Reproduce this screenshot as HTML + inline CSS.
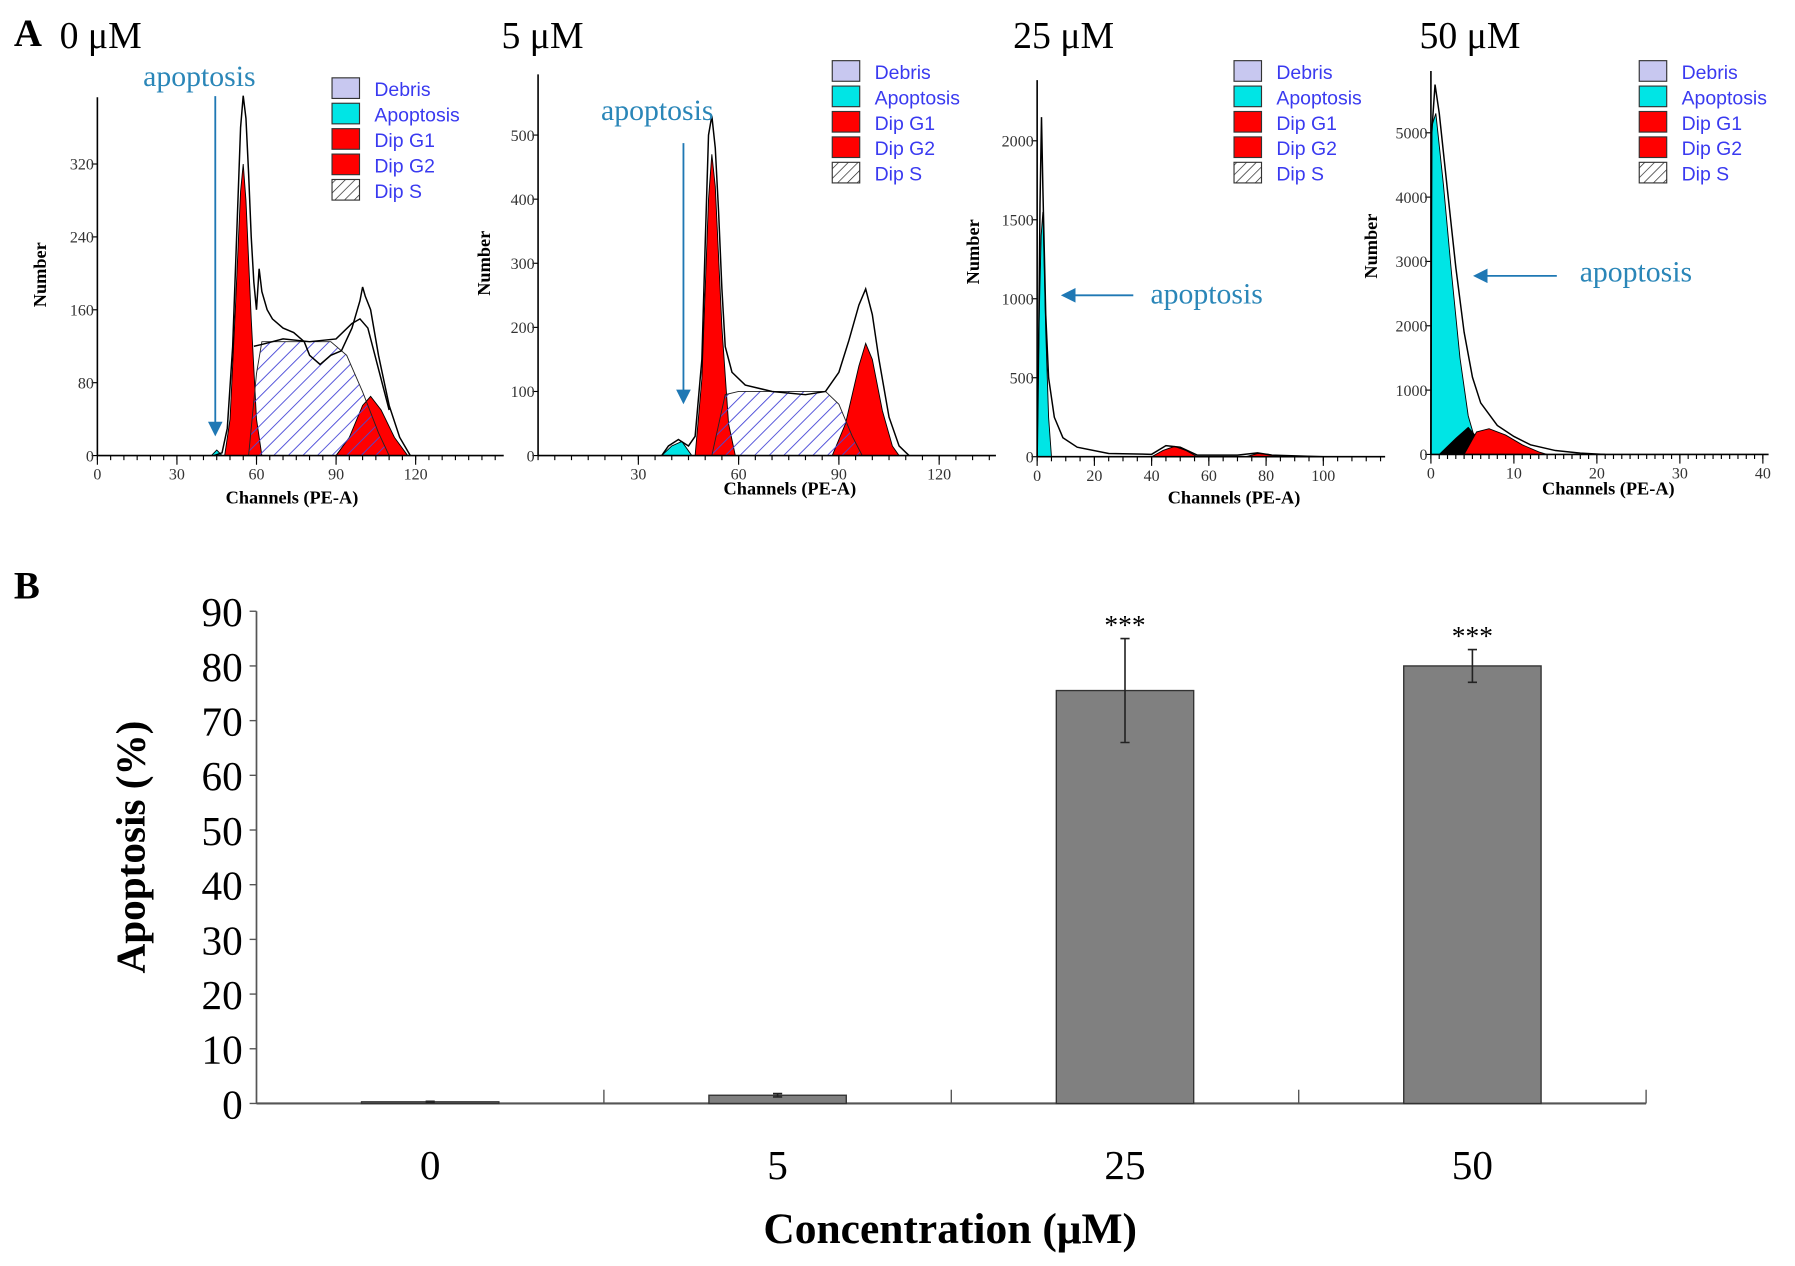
<!DOCTYPE html>
<html><head><meta charset="utf-8"><style>
html,body{margin:0;padding:0;background:#fff}
svg{display:block}
</style></head><body>
<svg id="fig" width="1795" height="1266" viewBox="0 0 1568 1106" xmlns="http://www.w3.org/2000/svg">
<defs>
<pattern id="hatch" patternUnits="userSpaceOnUse" width="9" height="9" patternTransform="rotate(45)">
<line x1="0" y1="0" x2="0" y2="9" stroke="#4a4ad8" stroke-width="1.6"/>
</pattern>
<pattern id="hatchLeg" patternUnits="userSpaceOnUse" width="6" height="6" patternTransform="rotate(45)">
<line x1="0" y1="0" x2="0" y2="6" stroke="#222" stroke-width="1.2"/>
</pattern>
<marker id="arr" markerWidth="8" markerHeight="8" refX="6" refY="4" orient="auto" markerUnits="strokeWidth"><path d="M0,0 L8,4 L0,8 z" fill="#1f78b4"/></marker>
</defs>
<g id="panelA"></g>
<g id="panelB"></g>
</svg>
<script>
// ---------- Panel B data ----------
const barCategories = ["0","5","25","50"];
const barValues = [0.3, 1.5, 75.5, 80];
const barErrors = [0.1, 0.3, 9.5, 3];
const barSig = ["","","***","***"];
const yTicks = [0,10,20,30,40,50,60,70,80,90];

// ---------- Panel A data (channel, count) ----------
const p1Envelope = [[44,0],[47,3],[49,30],[51,120],[53,280],[54,360],[55,395],[56,370],[57,310],[58,240],[59,190],[60,160],[61,205],[62,180],[64,160],[66,150],[70,140],[74,135],[78,125],[80,110],[84,100],[88,110],[92,115],[96,140],[99,170],[100,185],[101,175],[103,160],[106,110],[110,55],[114,20],[118,0]];
const p1Envelope2 = [[59,120],[62,122],[70,128],[80,125],[90,128],[96,145],[99,150],[102,140],[106,95],[110,50]];
const p1Apop = [[43,0],[45,6],[47,0]];
const p1G1 = [[48,0],[50,40],[52,160],[54,290],[55,320],[56,280],[58,150],[60,40],[62,0]];
const p1S = [[57,0],[60,90],[62,125],[88,125],[94,110],[100,70],[106,25],[110,0]];
const p1G2 = [[90,0],[95,20],[100,55],[103,65],[107,50],[112,20],[117,0]];

const p2Envelope = [[37,0],[39,15],[42,25],[45,15],[47,30],[49,150],[50,330],[51,500],[52,530],[53,480],[54,380],[55,260],[56,170],[58,130],[62,110],[70,100],[80,95],[86,100],[90,130],[93,180],[96,235],[98,260],[100,220],[102,150],[105,60],[108,15],[111,0]];
const p2Apop = [[37,0],[40,15],[43,22],[46,0]];
const p2G1 = [[47,0],[49,120],[51,400],[52,470],[53,420],[55,200],[57,50],[59,0]];
const p2S = [[52,0],[56,95],[60,100],[86,100],[90,80],[94,30],[97,0]];
const p2G2 = [[88,0],[92,50],[96,140],[98,175],[100,150],[103,70],[106,15],[108,0]];

const p3Envelope = [[0,0],[0.5,700],[1,1600],[1.5,2150],[2,1700],[3,900],[4,500],[6,250],[9,120],[14,60],[25,20],[40,15],[45,70],[50,60],[56,10],[70,10],[77,25],[82,10],[100,0]];
const p3Apop = [[0,0],[0.6,800],[1.4,1400],[2,1550],[3,800],[4,250],[5,0]];
const p3G1 = [[40,0],[44,40],[48,65],[52,40],[56,0]];
const p3G2 = [[73,0],[77,20],[81,15],[85,0]];

const p4Envelope = [[0,0],[0.1,5000],[0.5,5750],[1,5300],[2,4100],[3,2900],[4,1900],[5,1200],[6,800],[8,450],[10,280],[12,150],[15,60],[18,20],[21,0]];
const p4Apop = [[0,0],[0.1,5100],[0.6,5300],[1.5,4200],[2.5,2800],[3.5,1500],[4.5,600],[5.5,150],[6,0]];
const p4Black = [[1,0],[3,250],[4.5,420],[6,200],[8,0]];
const p4Red = [[4,0],[5.5,350],[7,400],[9,300],[11,150],[13,40],[14,0]];

const SVGNS = "http://www.w3.org/2000/svg";
function mk(tag, attrs, parent, text){
  const e = document.createElementNS(SVGNS, tag);
  for (const k in attrs) e.setAttribute(k, attrs[k]);
  if (text !== undefined) e.textContent = text;
  parent.appendChild(e);
  return e;
}
const A = document.getElementById("panelA");
const B = document.getElementById("panelB");

// ---------- Panel A ----------
const panels = [
  {title:"0 μM", tx:52, x0:85, y0:398, xmax:440, ytop:85, pxX:2.317, pxY:0.796, xTicks:[0,30,60,90,120], xStep:5, yTicks:[0,80,160,240,320], numX:40, numY:240, chX:255, chY:440,
   legX:290, legY:68, series:[["apop",p1Apop],["g1",p1G1],["g2",p1G2],["s",p1S],["env",p1Envelope],["env",p1Envelope2]],
   ann:{tx:125,ty:75,x1:188,y1:84,x2:188,y2:378}},
  {title:"5 μM", tx:438, x0:470, y0:398, xmax:870, ytop:65, pxX:2.92, pxY:0.56, xTicks:[30,60,90,120], xStep:5, yTicks:[0,100,200,300,400,500], numX:428, numY:230, chX:690, chY:432,
   legX:727, legY:53, series:[["apop",p2Apop],["g1",p2G1],["g2",p2G2],["s",p2S],["env",p2Envelope]],
   ann:{tx:525,ty:105,x1:597,y1:125,x2:597,y2:350}},
  {title:"25 μM", tx:885, x0:906, y0:399, xmax:1210, ytop:70, pxX:2.5, pxY:0.138, xTicks:[0,20,40,60,80,100], xStep:5, yTicks:[0,500,1000,1500,2000], numX:855, numY:220, chX:1078, chY:440,
   legX:1078, legY:53, series:[["apop",p3Apop],["g1",p3G1],["g2",p3G2],["env",p3Envelope]],
   ann:{tx:1005,ty:265,x1:990,y1:258,x2:930,y2:258}},
  {title:"50 μM", tx:1240, x0:1250, y0:397, xmax:1545, ytop:62, pxX:7.25, pxY:0.0562, xTicks:[0,10,20,30,40], xStep:1, yTicks:[0,1000,2000,3000,4000,5000], numX:1203, numY:215, chX:1405, chY:432,
   legX:1432, legY:53, series:[["apop",p4Apop],["black",p4Black],["g1",p4Red],["env",p4Envelope]],
   ann:{tx:1380,ty:246,x1:1360,y1:241,x2:1290,y2:241}}
];
mk("text",{x:12,y:40,"font-family":"Liberation Serif, serif","font-weight":"bold","font-size":34,},A,"A");
const fills = {apop:"#00e5e5", g1:"#ff0000", g2:"#ff0000", s:"url(#hatch)", black:"#000", env:"none"};
panels.forEach((p, i) => {
  const g = mk("g",{},A);
  
  
  const sx = v => p.x0 + v * p.pxX;
  const sy = v => p.y0 - v * p.pxY;
  const t = mk("text",{x:p.tx,y:42,"font-family":"Liberation Serif, serif","font-size":33},g,p.title);
  
  
  p.series.forEach(([kind, data]) => {
    let d = "M" + data.map(pt => sx(pt[0]).toFixed(1) + "," + sy(pt[1]).toFixed(1)).join(" L");
    if (kind !== "env") d += " Z";
    const path = mk("path",{d:d, fill:fills[kind], stroke:kind==="s"?"#222":"#000","stroke-width":kind==="env"?1.3:0.8},g);
    
    
  });
  // axes
  mk("line",{x1:p.x0,y1:p.ytop,x2:p.x0,y2:p.y0,stroke:"#000","stroke-width":1.4},g);
  mk("line",{x1:p.x0,y1:p.y0,x2:p.xmax,y2:p.y0,stroke:"#000","stroke-width":1.4},g);
  for (let v = 0; sx(v) <= p.xmax; v += p.xStep) {
    mk("line",{x1:sx(v),y1:p.y0,x2:sx(v),y2:p.y0+4,stroke:"#000","stroke-width":1},g);
  }
  p.xTicks.forEach(v => {
    mk("line",{x1:sx(v),y1:p.y0,x2:sx(v),y2:p.y0+8,stroke:"#000","stroke-width":1},g);
    const tl = mk("text",{x:sx(v),y:p.y0+21,"text-anchor":"middle","font-family":"Liberation Serif, serif","font-size":14,fill:"#333"},g,String(v));
    
    
  });
  p.yTicks.forEach(v => {
    mk("line",{x1:p.x0-5,y1:sy(v),x2:p.x0,y2:sy(v),stroke:"#000","stroke-width":1},g);
    const tl = mk("text",{x:p.x0-3,y:sy(v)+5,"text-anchor":"end","font-family":"Liberation Serif, serif","font-size":14,fill:"#333"},g,String(v));
    
    
  });
  const nl = mk("text",{x:0,y:0,transform:"translate("+p.numX+","+p.numY+") rotate(-90)","text-anchor":"middle","font-family":"Liberation Serif, serif","font-weight":"bold","font-size":16},g,"Number");
  
  
  const cl = mk("text",{x:p.chX,y:p.chY,"text-anchor":"middle","font-family":"Liberation Serif, serif","font-weight":"bold","font-size":16},g,"Channels (PE-A)");
  
  
  // legend
  const leg = [["Debris","#c8c8f0"],["Apoptosis","#00e5e5"],["Dip G1","#ff0000"],["Dip G2","#ff0000"],["Dip S","url(#hatchLeg)"]];
  leg.forEach((l, k) => {
    const y = p.legY + k * 22.2;
    const r = mk("rect",{x:p.legX,y:y,width:24,height:18,fill:l[1],stroke:"#333","stroke-width":1},g);
    
    
    const lt = mk("text",{x:p.legX+37,y:y+16,"font-family":"Liberation Sans, sans-serif","font-size":17,fill:"#3a3af0"},g,l[0]);
    
    
  });
  // annotation
  const a = p.ann;
  const at = mk("text",{x:a.tx,y:a.ty,"font-family":"Liberation Serif, serif","font-size":26,fill:"#2a86b8"},g,"apoptosis");
  
  
  const al = mk("line",{x1:a.x1,y1:a.y1,x2:a.x2,y2:a.y2,stroke:"#1f78b4","stroke-width":1.6,"marker-end":"url(#arr)"},g);
  
  
});

// ---------- Panel B ----------
const bx0 = 224, bx1 = 1438, by0 = 964, by90 = 534;
const yS = v => by0 - (by0 - by90) * v / 90;
const catW = (bx1 - bx0) / barCategories.length;
const xC = i => bx0 + catW * (i + 0.5);
const bw = 120;
mk("text",{x:12,y:523,"font-family":"Liberation Serif, serif","font-weight":"bold","font-size":34,},B,"B");
mk("line",{x1:bx0,y1:by90,x2:bx0,y2:by0,stroke:"#555","stroke-width":1.5},B);
mk("line",{x1:bx0,y1:by0,x2:bx1,y2:by0,stroke:"#555","stroke-width":1.8},B);
yTicks.forEach(v => {
  mk("line",{x1:bx0-6,y1:yS(v),x2:bx0,y2:yS(v),stroke:"#555","stroke-width":1.2},B);
  const t = mk("text",{x:212,y:yS(v)+13,"text-anchor":"end","font-family":"Liberation Serif, serif","font-size":36},B,String(v));
  
  
});
for (let i = 1; i <= barCategories.length; i++) {
  mk("line",{x1:bx0+catW*i,y1:by0,x2:bx0+catW*i,y2:by0-12,stroke:"#555","stroke-width":1.2},B);
}
barCategories.forEach((c, i) => {
  const r = mk("rect",{x:xC(i)-bw/2,y:yS(barValues[i]),width:bw,height:by0-yS(barValues[i]),fill:"#808080",stroke:"#333","stroke-width":1.2},B);
  
  
  const hi = yS(barValues[i] + barErrors[i]), lo = yS(barValues[i] - barErrors[i]);
  const e = mk("path",{d:`M${xC(i)},${hi} L${xC(i)},${lo} M${xC(i)-4},${hi} L${xC(i)+4},${hi} M${xC(i)-4},${lo} L${xC(i)+4},${lo}`,stroke:"#222","stroke-width":1.4,fill:"none"},B);
  
  
  if (barSig[i]) {
    const s = mk("text",{x:xC(i),y:hi-4,"text-anchor":"middle","font-family":"Liberation Serif, serif","font-size":24},B,barSig[i]);
    
    
  }
  const t = mk("text",{x:xC(i),y:1030,"text-anchor":"middle","font-family":"Liberation Serif, serif","font-size":36},B,c);
  
  
});
mk("text",{x:0,y:0,transform:"translate(126,740) rotate(-90)","text-anchor":"middle","font-family":"Liberation Serif, serif","font-weight":"bold","font-size":36,},B,"Apoptosis (%)");
mk("text",{x:830,y:1086,"text-anchor":"middle","font-family":"Liberation Serif, serif","font-weight":"bold","font-size":38,},B,"Concentration (μM)");
</script>
</body></html>
